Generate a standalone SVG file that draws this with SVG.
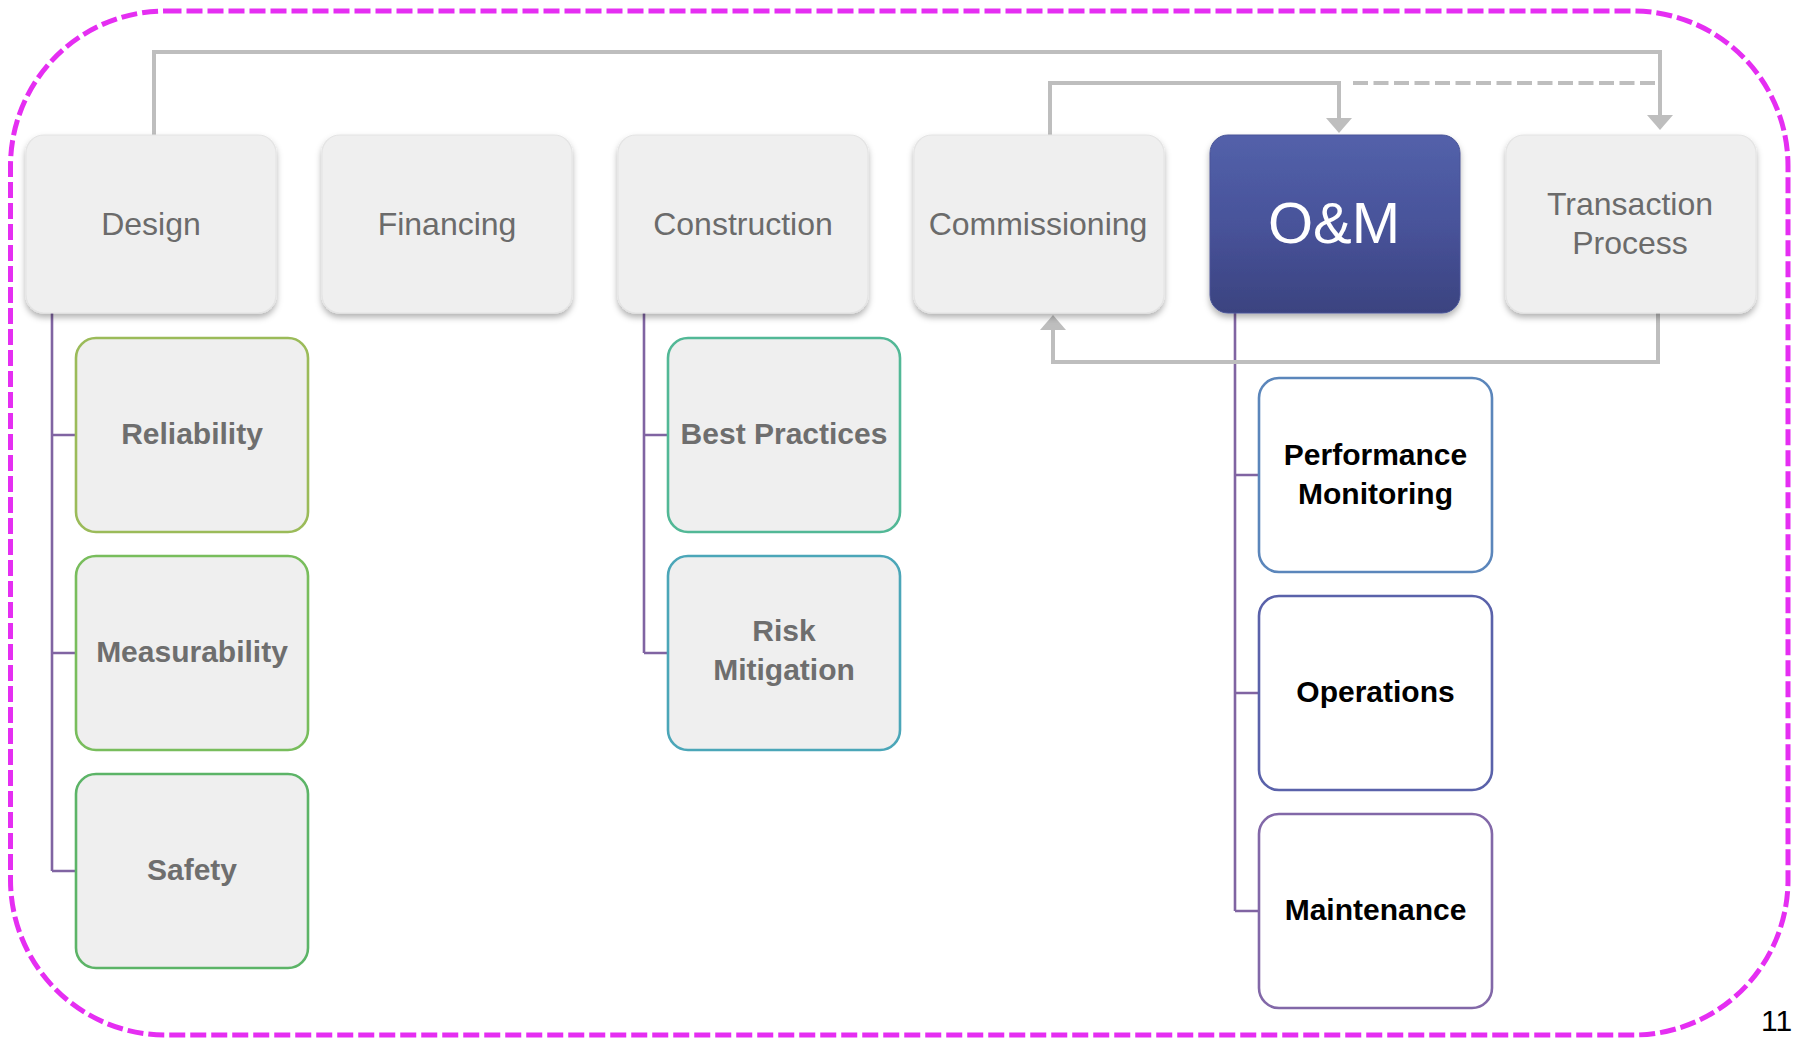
<svg xmlns="http://www.w3.org/2000/svg" width="1797" height="1039" viewBox="0 0 1797 1039">
<defs>
  <filter id="shadow" x="-10%" y="-10%" width="120%" height="130%">
    <feDropShadow dx="0" dy="4" stdDeviation="3" flood-color="#000" flood-opacity="0.3"/>
  </filter>
  <linearGradient id="omGrad" x1="0" y1="0" x2="0" y2="1">
    <stop offset="0" stop-color="#5361aa"/>
    <stop offset="0.5" stop-color="#48539a"/>
    <stop offset="1" stop-color="#3b4380"/>
  </linearGradient>
  <marker id="arr" markerUnits="userSpaceOnUse" markerWidth="16" markerHeight="28" viewBox="0 -14 16 28" refX="0" refY="0" orient="auto">
    <path d="M0,-13 L15,0 L0,13 Z" fill="#bebebe"/>
  </marker>
  <style>
    .frame { fill: none; stroke: #e52ef2; stroke-width: 5; stroke-dasharray: 16 5; }
    .top { fill: #efefef; stroke: #e4e4e4; stroke-width: 1.2; filter: url(#shadow); }
    .om { fill: url(#omGrad); stroke: #4a5597; stroke-width: 1; filter: url(#shadow); }
    .lbl { font-family: "Liberation Sans", Arial, sans-serif; font-size: 32px; fill: #6b6b6b; text-anchor: middle; }
    .omlbl { font-family: "Liberation Sans", Arial, sans-serif; font-size: 58px; fill: #ffffff; text-anchor: middle; }
    .child { fill: #efefef; stroke-width: 2.6; }
    .ochild { fill: #ffffff; stroke-width: 2.6; }
    .clbl { font-family: "Liberation Sans", Arial, sans-serif; font-size: 30px; font-weight: bold; fill: #6e6e6e; text-anchor: middle; }
    .oclbl { font-family: "Liberation Sans", Arial, sans-serif; font-size: 30px; font-weight: bold; fill: #000000; text-anchor: middle; }
    .flow { fill: none; stroke: #bebebe; stroke-width: 4; }
    .dash { fill: none; stroke: #bebebe; stroke-width: 4; stroke-dasharray: 15 5.5; }
    .tree { fill: none; stroke: #8064a2; stroke-width: 2.6; }
    .page { font-family: "Liberation Sans", Arial, sans-serif; font-size: 30px; fill: #000000; }
  </style>
</defs>

<rect class="frame" x="10.5" y="11" width="1777.5" height="1024" rx="155" ry="155"/>

<g id="connectors">
  <path class="tree" d="M52,313 V871 M52,435 H76 M52,653 H76 M52,871 H76"/>
  <path class="tree" d="M644,313 V653 M644,435 H668 M644,653 H668"/>
  <path class="tree" d="M1235,313 V911 M1235,475 H1259 M1235,693 H1259 M1235,911 H1259"/>
  <path class="flow" d="M154,135 V52 H1660 V115" marker-end="url(#arr)"/>
  <path class="flow" d="M1050,135 V83 H1339 V118" marker-end="url(#arr)"/>
  <path class="dash" d="M1353,83 H1658"/>
  <path class="flow" d="M1658,313 V362 H1053 V330" marker-end="url(#arr)"/>
</g>

<g id="design">
  <rect class="top" x="26" y="135" width="250" height="178" rx="18"/>
  <text class="lbl" x="151" y="234.5">Design</text>
</g>
<g id="financing">
  <rect class="top" x="322" y="135" width="250" height="178" rx="18"/>
  <text class="lbl" x="447" y="234.5">Financing</text>
</g>
<g id="construction">
  <rect class="top" x="618" y="135" width="250" height="178" rx="18"/>
  <text class="lbl" x="743" y="234.5">Construction</text>
</g>
<g id="commissioning">
  <rect class="top" x="914" y="135" width="250" height="178" rx="18"/>
  <text class="lbl" x="1038" y="234.5">Commissioning</text>
</g>
<g id="om">
  <rect class="om" x="1210" y="135" width="250" height="178" rx="18"/>
  <text class="omlbl" x="1334" y="243">O&amp;M</text>
</g>
<g id="transaction">
  <rect class="top" x="1506" y="135" width="250" height="178" rx="18"/>
  <text class="lbl" x="1630" y="215">Transaction</text>
  <text class="lbl" x="1630" y="254">Process</text>
</g>

<g id="reliability">
  <rect class="child" x="76" y="338" width="232" height="194" rx="20" stroke="#9bbb59"/>
  <text class="clbl" x="192" y="444">Reliability</text>
</g>
<g id="measurability">
  <rect class="child" x="76" y="556" width="232" height="194" rx="20" stroke="#78bd5c"/>
  <text class="clbl" x="192" y="662">Measurability</text>
</g>
<g id="safety">
  <rect class="child" x="76" y="774" width="232" height="194" rx="20" stroke="#5cb467"/>
  <text class="clbl" x="192" y="880">Safety</text>
</g>

<g id="best-practices">
  <rect class="child" x="668" y="338" width="232" height="194" rx="20" stroke="#52b896"/>
  <text class="clbl" x="784" y="444">Best Practices</text>
</g>
<g id="risk-mitigation">
  <rect class="child" x="668" y="556" width="232" height="194" rx="20" stroke="#4ba6b8"/>
  <text class="clbl" x="784" y="641">Risk</text>
  <text class="clbl" x="784" y="680">Mitigation</text>
</g>

<g id="performance-monitoring">
  <rect class="ochild" x="1259" y="378" width="233" height="194" rx="20" stroke="#5b86bb"/>
  <text class="oclbl" x="1375.5" y="465">Performance</text>
  <text class="oclbl" x="1375.5" y="504">Monitoring</text>
</g>
<g id="operations">
  <rect class="ochild" x="1259" y="596" width="233" height="194" rx="20" stroke="#5a62aa"/>
  <text class="oclbl" x="1375.5" y="702">Operations</text>
</g>
<g id="maintenance">
  <rect class="ochild" x="1259" y="814" width="233" height="194" rx="20" stroke="#8268a8"/>
  <text class="oclbl" x="1375.5" y="920">Maintenance</text>
</g>

<text class="page" x="1761" y="1031">11</text>
</svg>
